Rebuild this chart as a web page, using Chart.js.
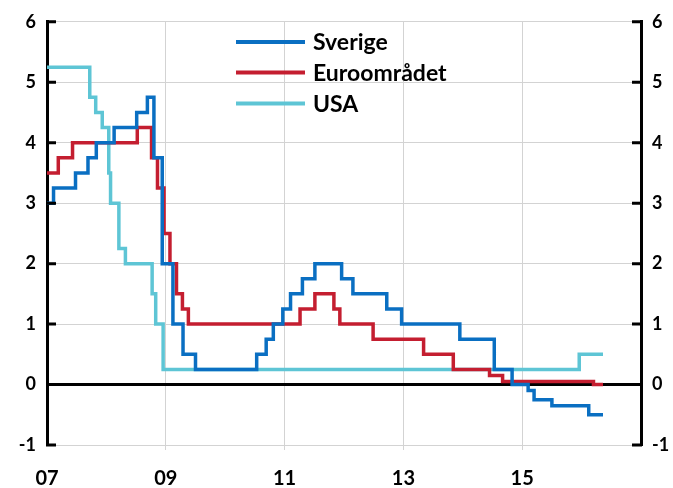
<!DOCTYPE html>
<html>
<head>
<meta charset="utf-8">
<script src="https://cdn.jsdelivr.net/npm/chart.js@4"></script>
<style>
  html, body { margin: 0; padding: 0; background: #fff; }
  #wrap { width: 673px; height: 488px; }
</style>
</head>
<body>
<div id="wrap"><canvas id="c" width="673" height="488"></canvas></div>
<script>
// ---- Data (decimal year of change, rate after change) ----
const seriesNames = ['Sverige', 'Euroområdet', 'USA'];

const sverigeDates = [2007.0, 2007.11, 2007.48, 2007.69, 2007.83, 2008.13, 2008.51, 2008.69, 2008.80, 2008.94, 2009.12, 2009.29, 2009.50, 2010.53, 2010.69, 2010.81, 2010.97, 2011.10, 2011.30, 2011.51, 2011.96, 2012.15, 2012.72, 2012.97, 2013.95, 2014.53, 2014.83, 2015.10, 2015.20, 2015.50, 2016.12, 2016.36];
const sverigeRates = [3.0, 3.25, 3.5, 3.75, 4.0, 4.25, 4.5, 4.75, 3.75, 2.0, 1.0, 0.5, 0.25, 0.5, 0.75, 1.0, 1.25, 1.5, 1.75, 2.0, 1.75, 1.5, 1.25, 1.0, 0.75, 0.25, 0.0, -0.1, -0.25, -0.35, -0.5, -0.5];

const euroDates = [2007.0, 2007.19, 2007.43, 2008.52, 2008.76, 2008.86, 2008.97, 2009.07, 2009.18, 2009.28, 2009.38, 2011.26, 2011.51, 2011.83, 2011.93, 2012.49, 2013.34, 2013.84, 2014.45, 2014.67, 2016.20, 2016.36];
const euroRates = [3.5, 3.75, 4.0, 4.25, 3.75, 3.25, 2.5, 2.0, 1.5, 1.25, 1.0, 1.25, 1.5, 1.25, 1.0, 0.75, 0.5, 0.25, 0.15, 0.05, 0.0, 0.0];

const usaDates = [2007.0, 2007.72, 2007.82, 2007.93, 2008.04, 2008.07, 2008.21, 2008.32, 2008.77, 2008.83, 2008.955, 2015.96, 2016.36];
const usaRates = [5.25, 4.75, 4.5, 4.25, 3.5, 3.0, 2.25, 2.0, 1.5, 1.0, 0.25, 0.5, 0.5];

const xMin = 2007, xMax = 2017, xStep = 2;
const yMin = -1, yMax = 6;
const colors = ['#0a6fc2', '#c41e30', '#5ec5d5'];

function toPoints(dates, rates) {
  return dates.map((d, i) => ({ x: d, y: rates[i] }));
}

const FONT = 'Lato, "Open Sans", "DejaVu Sans", sans-serif';

// Ticks drawn inside the plot at both y-axes
const innerTicks = {
  id: 'innerTicks',
  afterDraw(chart) {
    const ctx = chart.ctx;
    const area = chart.chartArea;
    const y = chart.scales.y;
    ctx.save();
    ctx.strokeStyle = '#000';
    ctx.lineWidth = 3;
    y.ticks.forEach(t => {
      const py = y.getPixelForValue(t.value);
      ctx.beginPath();
      ctx.moveTo(area.left - 1, py);
      ctx.lineTo(area.left + 9, py);
      ctx.moveTo(area.right - 9, py);
      ctx.lineTo(area.right + 1, py);
      ctx.stroke();
    });
    ctx.restore();
  }
};

// Legend drawn inside the plot area
const innerLegend = {
  id: 'innerLegend',
  afterDraw(chart) {
    const ctx = chart.ctx;
    ctx.save();
    ctx.font = 'bold 23px ' + FONT;
    ctx.textBaseline = 'middle';
    ctx.textAlign = 'left';
    const ys = [42, 72.5, 103.5];
    chart.data.datasets.forEach((ds, i) => {
      ctx.strokeStyle = ds.borderColor;
      ctx.lineWidth = 4;
      ctx.beginPath();
      ctx.moveTo(236, ys[i]);
      ctx.lineTo(305, ys[i]);
      ctx.stroke();
      ctx.fillStyle = '#000';
      ctx.fillText(ds.label, 313, ys[i] + 1);
    });
    ctx.restore();
  }
};

const datasets = [
  toPoints(sverigeDates, sverigeRates),
  toPoints(euroDates, euroRates),
  toPoints(usaDates, usaRates)
].map((pts, i) => ({
  label: seriesNames[i],
  data: pts,
  borderColor: colors[i],
  backgroundColor: colors[i],
  borderWidth: 3.5,
  pointRadius: 0,
  stepped: true,
  fill: false,
  order: i
}));

const gridGrey = '#d3d3d3';

new Chart(document.getElementById('c'), {
  type: 'line',
  data: { datasets },
  options: {
    responsive: false,
    animation: false,
    layout: { padding: { top: 20, left: 0, right: 0, bottom: 0 } },
    plugins: { legend: { display: false }, tooltip: { enabled: false } },
    scales: {
      x: {
        type: 'linear',
        min: xMin, max: xMax,
        afterBuildTicks: s => {
          const t = [];
          for (let v = xMin; v <= xMax; v += xStep) t.push({ value: v });
          s.ticks = t;
        },
        afterFit: s => { s.height = 43; },
        ticks: {
          callback: v => (v < xMax ? String(v).slice(2) : ''),
          color: '#000',
          font: { family: FONT, weight: 'bold', size: 20 },
          padding: 17,
          maxRotation: 0
        },
        grid: {
          color: c => (c.tick && (c.tick.value === xMin || c.tick.value === xMax)) ? 'rgba(0,0,0,0)' : gridGrey,
          lineWidth: 1,
          drawTicks: true,
          tickLength: 5,
          tickColor: c => (c.tick && (c.tick.value === xMin || c.tick.value === xMax)) ? 'rgba(0,0,0,0)' : gridGrey
        },
        border: { display: false }
      },
      y: {
        position: 'left',
        min: yMin, max: yMax,
        afterFit: s => { s.width = 47; },
        ticks: {
          stepSize: 1,
          color: '#000',
          font: { family: FONT, weight: 'bold', size: 18 },
          padding: 11
        },
        grid: {
          color: c => (c.tick && c.tick.value === 0) ? '#000' : gridGrey,
          lineWidth: c => (c.tick && c.tick.value === 0) ? 3 : 1,
          drawTicks: false
        },
        border: { color: '#000', width: 3 }
      },
      y2: {
        position: 'right',
        min: yMin, max: yMax,
        afterFit: s => { s.width = 32; },
        ticks: {
          stepSize: 1,
          color: '#000',
          font: { family: FONT, weight: 'bold', size: 18 },
          padding: 11
        },
        grid: { drawOnChartArea: false, drawTicks: false },
        border: { color: '#000', width: 3 }
      }
    }
  },
  plugins: [innerTicks, innerLegend]
});
</script>
</body>
</html>
